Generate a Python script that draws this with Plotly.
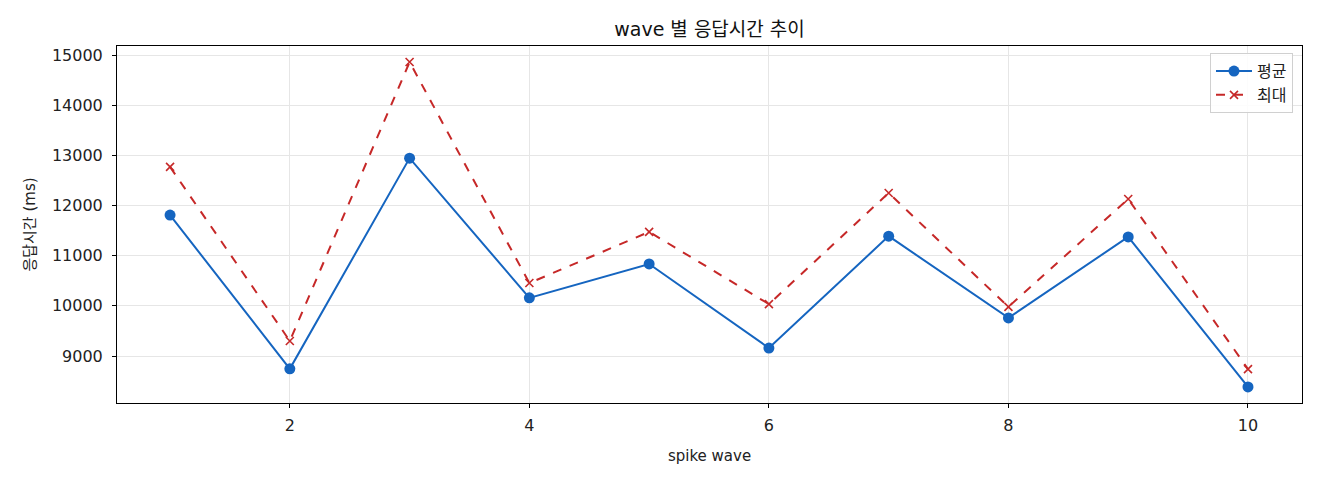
import plotly.graph_objects as go

# data
waves = [1, 2, 3, 4, 5, 6, 7, 8, 9, 10]
avg_ms = [11810, 8745, 12945, 10160, 10835, 9160, 11390, 9760, 11375, 8385]
max_ms = [12770, 9300, 14860, 10455, 11475, 10035, 12250, 9980, 12130, 8740]

FONT = "DejaVu Sans, Noto Sans CJK KR"

fig = go.Figure()

fig.add_trace(go.Scatter(
    x=waves, y=avg_ms, name="평균",
    mode="lines+markers",
    line=dict(color="#1565C0", width=2),
    marker=dict(symbol="circle", size=11, color="#1565C0"),
))
fig.add_trace(go.Scatter(
    x=waves, y=max_ms, name="최대",
    mode="lines+markers",
    line=dict(color="#C62828", width=2, dash="dash"),
    marker=dict(symbol="x-thin", size=8, color="#C62828",
                line=dict(color="#C62828", width=1.6)),
))

axis_common = dict(
    showline=True, linecolor="black", linewidth=1, mirror=True,
    ticks="outside", ticklen=4, tickcolor="black",
    showgrid=True, gridcolor="#e6e6e6", gridwidth=1,
    zeroline=False,
    tickfont=dict(family=FONT, size=16, color="#222"),
)

# page body has an 8px margin, so the figure is a bit smaller than the window
fig.update_layout(
    width=1312, height=472,
    paper_bgcolor="white", plot_bgcolor="white",
    margin=dict(l=109, r=18, t=38, b=77),
    font=dict(family=FONT, size=14, color="#222"),
    title=dict(text="wave 별 응답시간 추이", x=0.5347, xanchor="center",
               y=0.955, yanchor="middle",
               font=dict(family=FONT, size=19, color="#111")),
    xaxis=dict(axis_common, range=[0.557, 10.451], tickvals=[2, 4, 6, 8, 10],
               ticklabelstandoff=4,
               title=dict(text="spike wave", standoff=16,
                          font=dict(family=FONT, size=15))),
    yaxis=dict(axis_common, range=[8064, 15180], tickformat="d",
               tickvals=[9000, 10000, 11000, 12000, 13000, 14000, 15000],
               ticklabelstandoff=6,
               title=dict(text="응답시간 (ms)", standoff=12,
                          font=dict(family=FONT, size=15))),
    legend=dict(x=0.9924, y=0.98, xanchor="right", yanchor="top",
                bgcolor="rgba(255,255,255,0.85)", bordercolor="#d0d0d0",
                borderwidth=1, font=dict(family=FONT, size=16),
                itemwidth=36),
    showlegend=True,
)

fig.write_html("out.html")
